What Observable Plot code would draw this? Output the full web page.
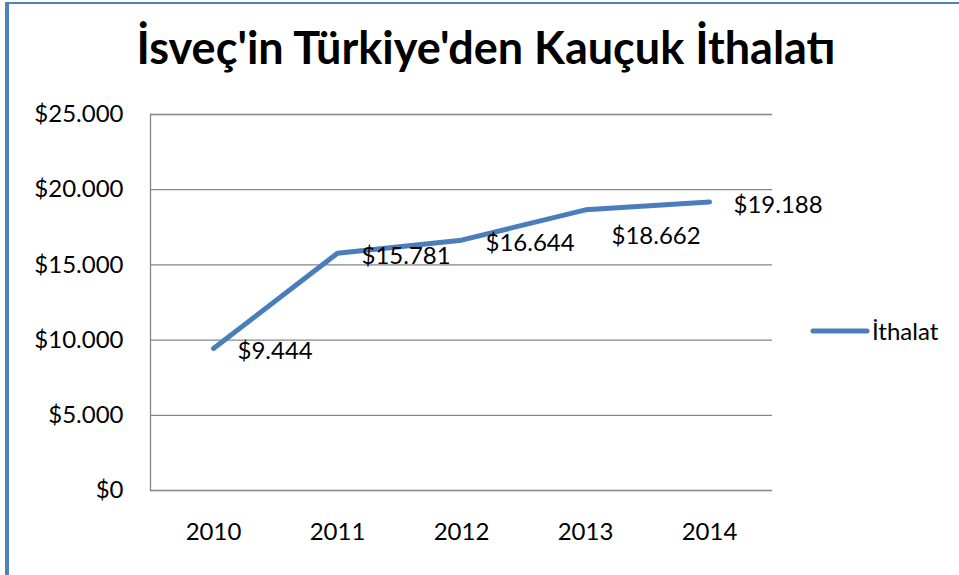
<!DOCTYPE html>
<html>
<head>
<meta charset="utf-8">
<script src="https://cdn.jsdelivr.net/npm/d3@7"></script>
<script src="https://cdn.jsdelivr.net/npm/@observablehq/plot@0.6"></script>
<style>
  html, body { margin: 0; padding: 0; background: #fff; }
  #wrap { position: relative; width: 959px; height: 575px; overflow: hidden; font-family: Lato, "Open Sans", sans-serif; }
  #border { position: absolute; left: 5px; top: 2px; width: 960px; height: 600px; border-left: 4px solid #4F81BD; border-top: 2px solid #4F81BD; box-sizing: border-box; }
  #title { position: absolute; left: 0; top: 20px; width: 972px; text-align: center; font-weight: bold; font-size: 45px; color: #000; white-space: nowrap; }
  #chart { position: absolute; left: 0; top: 0; }
  #legend { position: absolute; left: 810px; top: 316px; font-size: 24px; display: flex; align-items: center; color: #000; }
</style>
</head>
<body>
<div id="wrap">
  <div id="border"></div>
  <div id="chart"></div>
  <div id="title"></div>
  <div id="legend"></div>
</div>
<script>
const title = "İsveç'in Türkiye'den Kauçuk İthalatı";
const seriesName = "İthalat";
const years = ["2010", "2011", "2012", "2013", "2014"];
const values = [9444, 15781, 16644, 18662, 19188];
const yTicks = [0, 5000, 10000, 15000, 20000, 25000];

const data = years.map((y, i) => ({year: y, value: values[i]}));
const loc = d3.formatLocale({decimal: ",", thousands: ".", grouping: [3], currency: ["$", ""]});
const fmt = loc.format("$,");

const lineColor = "#4A7EBB";
const fontFam = "Lato, 'Open Sans', sans-serif";

const plot = Plot.plot({
  width: 959,
  height: 575,
  marginLeft: 150,
  marginRight: 187,
  marginTop: 114,
  marginBottom: 85,
  style: {fontFamily: fontFam, fontSize: "24px", color: "#000", background: "transparent"},
  x: {type: "point", domain: years, padding: 0.5, label: null},
  y: {domain: [0, 25000], label: null},
  marks: [
    Plot.gridY(yTicks, {stroke: "#868686", strokeOpacity: 1, strokeWidth: 1.3}),
    Plot.frame({anchor: "left", stroke: "#868686", strokeWidth: 1.3}),
    Plot.axisY(yTicks, {tickSize: 0, tickPadding: 27, tickFormat: fmt, fontSize: 24, label: null}),
    Plot.axisX({tickSize: 0, tickPadding: 32, fontSize: 24, label: null}),
    Plot.line(data, {x: "year", y: "value", stroke: lineColor, strokeWidth: 5, strokeLinecap: "round", strokeLinejoin: "round"}),
    Plot.text(data.filter(d => d.year !== "2013"), {x: "year", y: "value", text: d => fmt(d.value), textAnchor: "start", dx: 24, dy: 3, fontSize: 24, fill: "#000"}),
    Plot.text(data.filter(d => d.year === "2013"), {x: "year", y: "value", text: d => fmt(d.value), textAnchor: "start", dx: 26, dy: 26, fontSize: 24, fill: "#000"})
  ]
});
document.getElementById("chart").appendChild(plot);
document.getElementById("title").textContent = title;
document.getElementById("legend").innerHTML =
  `<svg width="60" height="28"><line x1="3" y1="14" x2="57" y2="14" stroke="${lineColor}" stroke-width="5" stroke-linecap="round"/></svg><span style="margin-left:2px">${seriesName}</span>`;
</script>
</body>
</html>
